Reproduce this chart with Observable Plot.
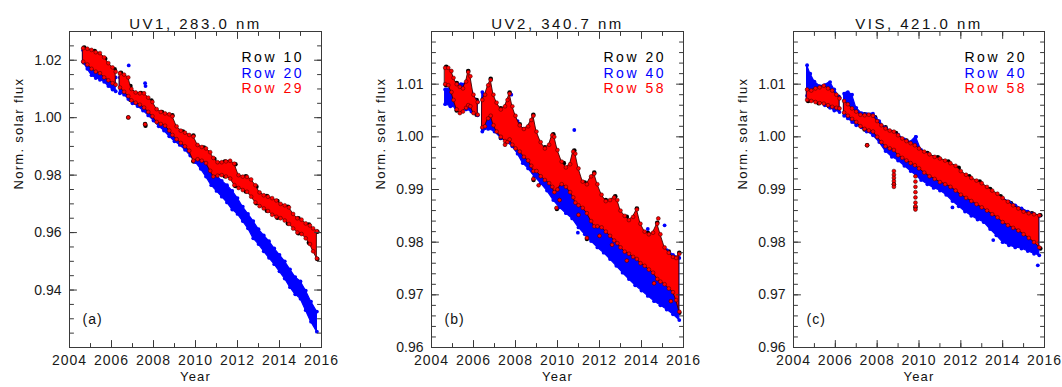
<!DOCTYPE html>
<html>
<head>
<meta charset="utf-8">
<script src="https://cdn.jsdelivr.net/npm/d3@7"></script>
<script src="https://cdn.jsdelivr.net/npm/@observablehq/plot@0.6"></script>
<style>
  html, body { margin: 0; padding: 0; background: #fff; }
  #chart { position: relative; width: 1062px; height: 387px; overflow: hidden; }
  #chart svg { position: absolute; top: 0; }
</style>
</head>
<body>
<div id="chart"></div>
<script>
// ---------------- DATA ----------------
// each row: [year, lower edge of point cloud, upper edge of point cloud]; null = data gap
const years = [2004, 2006, 2008, 2010, 2012, 2014, 2016];

// Panel (a) UV1, 283.0 nm
const uv1Row10 = [
  [2004.7,1.0192,1.0244],[2005.2,1.0158,1.0232],[2005.7,1.0135,1.0205],[2006.15,1.0115,1.0168],
  [2006.45,1.0100,1.0156],[2006.9,1.0062,1.0110],[2007.4,1.0042,1.0086],[2007.9,1.0008,1.0060],
  [2008.4,0.9975,1.0020],[2008.9,0.9938,1.0008],[2009.4,0.9905,0.9952],[2009.9,0.9848,0.9938],
  [2010.4,0.9845,0.9896],[2010.9,0.9793,0.9856],[2011.4,0.9796,0.9847],[2011.9,0.9762,0.9838],
  [2012.4,0.9743,0.9796],[2012.9,0.9702,0.9760],[2013.4,0.9676,0.9727],[2013.9,0.9652,0.9710],
  [2014.4,0.9632,0.9690],[2014.9,0.9598,0.9650],[2015.4,0.9565,0.9628],[2015.8,0.9508,0.9603]
];
const uv1Row20 = [
  [2004.65,1.0195,1.0235],[2004.85,1.0170,1.0225],[2005.05,1.0148,1.0205],[2005.25,1.0138,1.0190],
  [2005.45,1.0132,1.0180],[2005.65,1.0125,1.0170],[2005.85,1.0110,1.0160],[2006.05,1.0098,1.0150],
  [2006.2,1.0092,1.0140],[2006.3,null,null],[2006.4,1.0085,1.0140],[2006.6,1.0080,1.0130],
  [2006.8,1.0065,1.0110],[2007.0,1.0050,1.0090],[2007.25,1.0040,1.0075],[2007.5,1.0025,1.0065],
  [2007.75,1.0008,1.0050],[2008.0,0.9990,1.0030],[2008.25,0.9970,1.0015],[2008.5,0.9955,1.0005],
  [2008.75,0.9935,0.9985],[2009.0,0.9918,0.9970],[2009.25,0.9905,0.9955],[2009.5,0.9888,0.9938],
  [2009.75,0.9868,0.9915],[2010.0,0.9845,0.9895],[2010.25,0.9822,0.9878],[2010.5,0.9795,0.9850],
  [2010.75,0.9765,0.9820],[2011.0,0.9745,0.9800],[2011.25,0.9725,0.9780],[2011.5,0.9705,0.9765],
  [2011.75,0.9680,0.9745],[2012.0,0.9665,0.9720],[2012.25,0.9640,0.9690],[2012.5,0.9615,0.9665],
  [2012.75,0.9580,0.9640],[2013.0,0.9560,0.9612],[2013.25,0.9535,0.9590],[2013.5,0.9512,0.9570],
  [2013.75,0.9490,0.9545],[2014.0,0.9465,0.9522],[2014.25,0.9440,0.9500],[2014.5,0.9410,0.9472],
  [2014.75,0.9385,0.9445],[2015.0,0.9370,0.9430],[2015.25,0.9330,0.9398],[2015.5,0.9290,0.9360],
  [2015.78,0.9255,0.9325]
];
const uv1Row29 = [
  [2004.65,1.0195,1.0242],[2004.85,1.0185,1.0240],[2005.05,1.0170,1.0236],[2005.25,1.0160,1.0228],
  [2005.45,1.0155,1.0225],[2005.65,1.0140,1.0210],[2005.85,1.0130,1.0190],[2006.05,1.0120,1.0175],
  [2006.2,1.0115,1.0160],[2006.3,null,null],[2006.4,1.0105,1.0155],[2006.6,1.0090,1.0150],
  [2006.8,1.0075,1.0140],[2006.95,1.0060,1.0100],[2007.15,1.0052,1.0088],[2007.35,1.0045,1.0085],
  [2007.55,1.0035,1.0085],[2007.75,1.0020,1.0070],[2007.95,1.0005,1.0055],[2008.15,0.9985,1.0030],
  [2008.35,0.9978,1.0020],[2008.55,0.9972,1.0015],[2008.75,0.9955,1.0012],[2008.9,0.9940,1.0005],
  [2009.1,0.9925,0.9970],[2009.3,0.9912,0.9955],[2009.5,0.9900,0.9948],[2009.7,0.9885,0.9940],
  [2009.9,0.9850,0.9935],[2010.1,0.9855,0.9905],[2010.3,0.9850,0.9898],[2010.5,0.9842,0.9893],
  [2010.7,0.9815,0.9880],[2010.85,0.9795,0.9860],[2011.05,0.9798,0.9845],[2011.25,0.9800,0.9845],
  [2011.45,0.9795,0.9848],[2011.65,0.9788,0.9850],[2011.85,0.9765,0.9840],[2012.05,0.9755,0.9800],
  [2012.25,0.9748,0.9795],[2012.45,0.9742,0.9794],[2012.65,0.9725,0.9785],[2012.85,0.9705,0.9765],
  [2013.05,0.9692,0.9740],[2013.25,0.9684,0.9730],[2013.45,0.9675,0.9725],[2013.65,0.9662,0.9720],
  [2013.85,0.9655,0.9712],[2014.05,0.9650,0.9700],[2014.25,0.9642,0.9695],[2014.45,0.9630,0.9688],
  [2014.65,0.9614,0.9665],[2014.85,0.9600,0.9650],[2015.05,0.9595,0.9645],[2015.25,0.9580,0.9632],
  [2015.45,0.9560,0.9625],[2015.6,0.9535,0.9615],[2015.78,0.9510,0.9605]
];
const uv1Row10Out = [[2006.8,1.0001],[2007.6,0.9978],[2007.62,0.9972]];
const uv1Row20Out = [[2006.82,1.0182],[2007.6,1.0120],[2007.62,1.0110]];
const uv1Row29Out = [[2006.8,1.0001],[2007.6,0.9977]];

// Panel (b) UV2, 340.7 nm
const uv2Row20 = [
  [2004.7,1.0098,1.0133],[2005.2,1.0050,1.0102],[2005.75,1.0058,1.0125],[2006.15,1.0042,1.0070],
  [2006.45,1.0016,1.0072],[2006.82,1.0038,1.0110],[2007.3,0.9998,1.0054],[2007.72,0.9993,1.0084],
  [2008.2,0.9970,1.0024],[2008.85,0.9933,1.0042],[2009.4,0.9916,0.9980],[2009.8,0.9898,1.0005],
  [2010.3,0.9906,0.9950],[2010.8,0.9878,0.9974],[2011.3,0.9860,0.9913],[2011.75,0.9830,0.9932],
  [2012.3,0.9820,0.9880],[2012.75,0.9800,0.9887],[2013.3,0.9780,0.9848],[2013.78,0.9768,0.9864],
  [2014.3,0.9750,0.9818],[2014.75,0.9730,0.9837],[2015.3,0.9712,0.9782],[2015.8,0.9666,0.9780]
];
const uv2Row40 = [
  [2004.65,1.0062,1.0090],[2004.9,1.0058,1.0092],[2005.15,1.0055,1.0098],[2005.4,1.0054,1.0100],
  [2005.65,1.0052,1.0101],[2005.9,1.0048,1.0085],[2006.2,1.0041,1.0066],[2006.3,null,null],
  [2006.42,1.0010,1.0085],[2006.7,1.0015,1.0075],[2007.0,1.0010,1.0062],[2007.3,0.9998,1.0050],
  [2007.6,0.9990,1.0048],[2007.85,0.9982,1.0045],[2008.1,0.9968,1.0030],[2008.35,0.9950,1.0015],
  [2008.6,0.9940,1.0000],[2008.9,0.9925,0.9990],[2009.2,0.9912,0.9978],[2009.5,0.9898,0.9968],
  [2009.8,0.9880,0.9955],[2010.1,0.9866,0.9942],[2010.4,0.9855,0.9930],[2010.7,0.9845,0.9922],
  [2011.0,0.9828,0.9910],[2011.3,0.9815,0.9895],[2011.6,0.9802,0.9880],[2011.9,0.9790,0.9865],
  [2012.2,0.9780,0.9855],[2012.5,0.9768,0.9845],[2012.8,0.9755,0.9835],[2013.1,0.9742,0.9825],
  [2013.4,0.9730,0.9815],[2013.7,0.9718,0.9807],[2014.0,0.9708,0.9810],[2014.3,0.9698,0.9813],
  [2014.6,0.9688,0.9800],[2014.9,0.9680,0.9794],[2015.2,0.9672,0.9785],[2015.5,0.9663,0.9776],
  [2015.8,0.9652,0.9770]
];
const uv2Row58 = [
  [2004.65,1.0100,1.0131],[2004.8,1.0098,1.0131],[2004.95,1.0085,1.0125],[2005.05,1.0070,1.0112],
  [2005.2,1.0052,1.0100],[2005.35,1.0045,1.0095],[2005.5,1.0048,1.0092],[2005.65,1.0055,1.0105],
  [2005.75,1.0060,1.0123],[2005.85,1.0058,1.0115],[2006.0,1.0045,1.0080],[2006.2,1.0042,1.0066],
  [2006.3,null,null],[2006.42,1.0018,1.0070],[2006.55,1.0020,1.0080],[2006.7,1.0035,1.0098],
  [2006.82,1.0040,1.0108],[2006.95,1.0022,1.0080],[2007.1,1.0010,1.0065],[2007.3,1.0000,1.0052],
  [2007.5,0.9992,1.0058],[2007.62,0.9990,1.0070],[2007.72,0.9995,1.0082],[2007.85,0.9985,1.0058],
  [2008.0,0.9978,1.0040],[2008.2,0.9972,1.0022],[2008.4,0.9962,1.0015],[2008.6,0.9955,1.0020],
  [2008.75,0.9945,1.0032],[2008.85,0.9935,1.0040],[2009.0,0.9935,1.0010],[2009.2,0.9925,0.9990],
  [2009.4,0.9918,0.9978],[2009.6,0.9912,0.9985],[2009.75,0.9905,1.0003],[2009.85,0.9895,1.0000],
  [2010.0,0.9900,0.9975],[2010.2,0.9910,0.9953],[2010.4,0.9905,0.9942],[2010.6,0.9895,0.9948],
  [2010.75,0.9885,0.9972],[2010.85,0.9875,0.9968],[2011.0,0.9870,0.9940],[2011.2,0.9865,0.9915],
  [2011.4,0.9855,0.9910],[2011.6,0.9840,0.9925],[2011.75,0.9830,0.9930],[2011.9,0.9830,0.9910],
  [2012.1,0.9828,0.9890],[2012.3,0.9820,0.9878],[2012.5,0.9812,0.9880],[2012.7,0.9803,0.9885],
  [2012.85,0.9798,0.9880],[2013.0,0.9790,0.9860],[2013.2,0.9782,0.9850],[2013.4,0.9778,0.9842],
  [2013.6,0.9772,0.9848],[2013.78,0.9768,0.9862],[2013.95,0.9760,0.9835],[2014.15,0.9755,0.9820],
  [2014.35,0.9748,0.9815],[2014.55,0.9742,0.9818],[2014.75,0.9730,0.9835],[2014.9,0.9725,0.9815],
  [2015.1,0.9720,0.9790],[2015.3,0.9712,0.9780],[2015.5,0.9705,0.9772],[2015.65,0.9690,0.9770],
  [2015.8,0.9668,0.9778]
];
const uv2Row20Out = [[2008.86,0.9918],[2009.97,0.9863],[2011.4,0.9806]];
const uv2Row40Out = [[2007.8,1.0080],[2010.8,1.0013],[2010.97,0.9818],[2014.3,0.9825],[2015.1,0.9832]];
const uv2Row58Out = [
  [2007.5,0.9985],[2008.85,0.9920],[2009.1,0.9908],[2009.95,0.9865],[2010.1,0.9880],[2011.0,0.9852],
  [2011.4,0.9808],[2012.0,0.9812],[2012.6,0.9795],[2013.3,0.9765],[2014.6,0.9722],[2014.8,0.9845],[2015.4,0.9688]
];

// Panel (c) VIS, 421.0 nm
const visRow20 = [
  [2004.7,1.0068,1.0092],[2005.2,1.0064,1.0095],[2005.7,1.0058,1.0093],[2006.15,1.0053,1.0076],
  [2006.45,1.0045,1.0069],[2006.9,1.0030,1.0052],[2007.4,1.0014,1.0043],[2007.9,1.0005,1.0037],
  [2008.4,0.9980,1.0018],[2008.9,0.9970,1.0007],[2009.4,0.9954,0.9993],[2009.9,0.9943,0.9982],
  [2010.4,0.9928,0.9969],[2010.9,0.9916,0.9961],[2011.4,0.9907,0.9953],[2011.9,0.9893,0.9941],
  [2012.4,0.9880,0.9925],[2012.9,0.9868,0.9915],[2013.4,0.9855,0.9901],[2013.9,0.9840,0.9887],
  [2014.4,0.9829,0.9874],[2014.9,0.9818,0.9861],[2015.4,0.9803,0.9855],[2015.8,0.9788,0.9851]
];
const visRow40 = [
  [2004.65,1.0078,1.0136],[2004.8,1.0073,1.0120],[2005.0,1.0070,1.0105],[2005.25,1.0066,1.0096],
  [2005.5,1.0060,1.0098],[2005.75,1.0055,1.0104],[2005.95,1.0050,1.0090],[2006.2,1.0047,1.0075],
  [2006.3,null,null],[2006.42,1.0040,1.0082],[2006.6,1.0035,1.0085],[2006.8,1.0028,1.0080],
  [2007.0,1.0022,1.0055],[2007.25,1.0018,1.0045],[2007.5,1.0010,1.0043],[2007.8,1.0003,1.0044],
  [2008.1,0.9990,1.0030],[2008.4,0.9973,1.0017],[2008.7,0.9962,1.0010],[2009.0,0.9955,1.0004],
  [2009.3,0.9945,0.9995],[2009.6,0.9935,0.9990],[2009.85,0.9927,1.0000],[2010.1,0.9918,0.9975],
  [2010.4,0.9910,0.9967],[2010.7,0.9903,0.9962],[2011.0,0.9898,0.9955],[2011.3,0.9890,0.9950],
  [2011.6,0.9878,0.9940],[2011.9,0.9868,0.9932],[2012.2,0.9858,0.9922],[2012.5,0.9850,0.9914],
  [2012.8,0.9843,0.9905],[2013.1,0.9838,0.9900],[2013.4,0.9825,0.9893],[2013.7,0.9813,0.9889],
  [2014.0,0.9800,0.9883],[2014.3,0.9794,0.9877],[2014.6,0.9790,0.9870],[2014.9,0.9788,0.9864],
  [2015.2,0.9783,0.9858],[2015.5,0.9778,0.9853],[2015.75,0.9775,0.9850]
];
const visRow58 = [
  [2004.65,1.0070,1.0090],[2004.85,1.0068,1.0088],[2005.05,1.0066,1.0092],[2005.25,1.0064,1.0094],
  [2005.45,1.0063,1.0097],[2005.65,1.0060,1.0092],[2005.85,1.0057,1.0088],[2006.05,1.0055,1.0080],
  [2006.2,1.0054,1.0073],[2006.3,null,null],[2006.42,1.0046,1.0068],[2006.6,1.0040,1.0062],
  [2006.8,1.0034,1.0054],[2007.0,1.0028,1.0048],[2007.2,1.0020,1.0042],[2007.4,1.0015,1.0041],
  [2007.6,1.0012,1.0042],[2007.8,1.0010,1.0040],[2008.0,1.0000,1.0030],[2008.2,0.9990,1.0022],
  [2008.4,0.9982,1.0016],[2008.6,0.9978,1.0012],[2008.8,0.9975,1.0010],[2009.0,0.9965,1.0003],
  [2009.2,0.9960,0.9997],[2009.4,0.9955,0.9992],[2009.6,0.9950,0.9988],[2009.8,0.9946,0.9984],
  [2010.0,0.9940,0.9978],[2010.25,0.9932,0.9972],[2010.5,0.9925,0.9967],[2010.75,0.9920,0.9962],
  [2011.0,0.9914,0.9959],[2011.25,0.9910,0.9955],[2011.5,0.9905,0.9950],[2011.75,0.9898,0.9945],
  [2012.0,0.9890,0.9935],[2012.25,0.9884,0.9928],[2012.5,0.9878,0.9922],[2012.75,0.9872,0.9917],
  [2013.0,0.9866,0.9912],[2013.25,0.9860,0.9905],[2013.5,0.9853,0.9898],[2013.75,0.9847,0.9892],
  [2014.0,0.9838,0.9884],[2014.25,0.9832,0.9877],[2014.5,0.9827,0.9870],[2014.75,0.9822,0.9864],
  [2015.0,0.9815,0.9858],[2015.25,0.9808,0.9855],[2015.5,0.9800,0.9853],[2015.75,0.9790,0.9851]
];
const visRow20Out = [[2007.52,0.9984],[2008.8,0.9910],[2009.83,0.9866]];
const visRow40Out = [[2015.68,0.9756],[2011.6,0.9866],[2013.55,0.9804],[2009.85,1.0000]];
const visRow58Out = [
  [2007.52,0.9984],[2008.8,0.9935],[2008.8,0.9928],[2008.8,0.9922],[2008.8,0.9916],[2008.8,0.9910],[2008.8,0.9905],
  [2009.83,0.9925],[2009.83,0.9915],[2009.83,0.9905],[2009.83,0.9895],[2009.83,0.9885],[2009.83,0.9875],[2009.83,0.9868],[2009.83,0.9862]
];

// ---------------- DRAWING ----------------
const FONT = "'Liberation Sans', Arial, Helvetica, sans-serif";
const AX = "#3a3a3a";
const BLUE = "#0000ff", RED = "#ff0000", BLACK = "#000000";
const tickShape = { draw(ctx, l) { ctx.moveTo(0, 0); ctx.lineTo(0, -l); } };

function toObj(rows) { return rows.map(([year, lo, hi]) => ({year, lo, hi})); }
function toPts(rows) { return rows.map(([year, v]) => ({year, v})); }

function cloud(rows, out, color, kind) {
  const d = toObj(rows);
  const o = toPts(out);
  if (kind === "black") {
    return [
      Plot.dot(d, {x: "year", y: "lo", r: 2.3, fill: BLACK}),
      Plot.dot(d, {x: "year", y: "hi", r: 2.3, fill: BLACK}),
      Plot.dot(o, {x: "year", y: "v", r: 2.2, fill: BLACK})
    ];
  }
  const edge = kind === "red" ? "#3d0000" : color;
  const ds = kind === "red" ? "#3d0000" : "none";
  return [
    Plot.areaY(d, {x: "year", y1: "lo", y2: "hi", fill: color, stroke: edge, strokeWidth: kind === "red" ? 0.9 : 1.2, curve: "linear"}),
    Plot.dot(d, {x: "year", y: "lo", r: 1.9, fill: color, stroke: ds, strokeWidth: 0.5}),
    Plot.dot(d, {x: "year", y: "hi", r: 1.9, fill: color, stroke: ds, strokeWidth: 0.5}),
    Plot.dot(o, {x: "year", y: "v", r: 1.9, fill: color, stroke: ds, strokeWidth: 0.6})
  ];
}

function frameTicks(xMajor, xMinor, yMajor, yMinor) {
  const m = [];
  const v = (vals, opts) => Plot.vector(vals, {anchor: "start", shape: tickShape, stroke: AX, strokeWidth: 1, ...opts});
  for (const [vals, len] of [[xMajor, 7], [xMinor, 4]]) {
    m.push(v(vals, {x: d => d, frameAnchor: "bottom", rotate: 0, length: len}));
    m.push(v(vals, {x: d => d, frameAnchor: "top", rotate: 180, length: len}));
  }
  for (const [vals, len] of [[yMajor, 7], [yMinor, 4]]) {
    m.push(v(vals, {y: d => d, frameAnchor: "left", rotate: 90, length: len}));
    m.push(v(vals, {y: d => d, frameAnchor: "right", rotate: -90, length: len}));
  }
  return m;
}

function spaceText(s, content, px) {
  s.selectAll("text").filter(function () { return this.textContent === content; })
    .style("letter-spacing", px + "px");
}

function panel(cfg) {
  const xMinor = d3.range(2004, 2016.01, 1);
  const yMinor = d3.range(cfg.yDomain[0], cfg.yDomain[1] + 1e-9, cfg.yStep);
  const ylab = "Norm. solar flux";
  const svg = Plot.plot({
    width: 354, height: 387,
    marginTop: 31, marginBottom: 40, marginLeft: cfg.mL, marginRight: cfg.mR,
    x: {domain: [2004, 2016]},
    y: {domain: cfg.yDomain},
    style: {fontFamily: FONT, fontSize: "14px", color: "#1a1a1a", background: "transparent", overflow: "visible"},
    marks: [
      ...cloud(cfg.rows[0].data, cfg.rows[0].out, BLACK, "black"),
      ...cloud(cfg.rows[1].data, cfg.rows[1].out, BLUE, "blue"),
      ...cloud(cfg.rows[2].data, cfg.rows[2].out, RED, "red"),
      Plot.frame({stroke: AX, strokeWidth: 1}),
      ...frameTicks(years, xMinor, cfg.yMajor, yMinor),
      Plot.axisX({ticks: years, tickSize: 0, tickPadding: 8, tickFormat: d => String(d), label: null, fontSize: 14}),
      Plot.axisY({ticks: cfg.yMajor, tickSize: 0, tickPadding: 8, tickFormat: d3.format(".2f"), label: null, fontSize: 14}),
      Plot.text([cfg.title], {text: d => d, frameAnchor: "top", dy: -13, fontSize: 15, fill: "#111"}),
      Plot.text([ylab], {text: d => d, frameAnchor: "left", dx: -51, rotate: -90, fontSize: 13, fill: "#111"}),
      Plot.text(["Year"], {text: d => d, frameAnchor: "bottom", dy: 33, fontSize: 13, fill: "#111"}),
      Plot.text([cfg.tag], {text: d => d, frameAnchor: "bottom-left", dx: 13, dy: -24, textAnchor: "start", fontSize: 14, fill: "#111"}),
      ...cfg.rows.map((r, i) => Plot.text([r.name], {text: d => d, frameAnchor: "top-right", dx: -80, dy: 21 + i * 15.5, textAnchor: "start", fontSize: 14, fill: r.color}))
    ]
  });
  const s = d3.select(svg);
  spaceText(s, cfg.title, 2.5);
  cfg.rows.forEach(r => spaceText(s, r.name, 2.5));
  spaceText(s, ylab, 1.3);
  spaceText(s, "Year", 1.2);
  spaceText(s, cfg.tag, 1);
  years.forEach(y => spaceText(s, String(y), 1));
  svg.style.left = cfg.left + "px";
  return svg;
}

const chart = document.getElementById("chart");
chart.append(panel({
  title: "UV1, 283.0 nm", tag: "(a)", left: 0, mL: 69, mR: 33,
  yDomain: [0.92, 1.03], yMajor: [0.94, 0.96, 0.98, 1.00, 1.02], yStep: 0.005,
  rows: [
    {name: "Row 10", color: BLACK, data: uv1Row10, out: uv1Row10Out},
    {name: "Row 20", color: BLUE, data: uv1Row20, out: uv1Row20Out},
    {name: "Row 29", color: RED, data: uv1Row29, out: uv1Row29Out}
  ]
}));
chart.append(panel({
  title: "UV2, 340.7 nm", tag: "(b)", left: 354, mL: 77, mR: 25,
  yDomain: [0.96, 1.02], yMajor: [0.96, 0.97, 0.98, 0.99, 1.00, 1.01], yStep: 0.002,
  rows: [
    {name: "Row 20", color: BLACK, data: uv2Row20, out: uv2Row20Out},
    {name: "Row 40", color: BLUE, data: uv2Row40, out: uv2Row40Out},
    {name: "Row 58", color: RED, data: uv2Row58, out: uv2Row58Out}
  ]
}));
chart.append(panel({
  title: "VIS, 421.0 nm", tag: "(c)", left: 708, mL: 85, mR: 18,
  yDomain: [0.96, 1.02], yMajor: [0.96, 0.97, 0.98, 0.99, 1.00, 1.01], yStep: 0.002,
  rows: [
    {name: "Row 20", color: BLACK, data: visRow20, out: visRow20Out},
    {name: "Row 40", color: BLUE, data: visRow40, out: visRow40Out},
    {name: "Row 58", color: RED, data: visRow58, out: visRow58Out}
  ]
}));
</script>
</body>
</html>
